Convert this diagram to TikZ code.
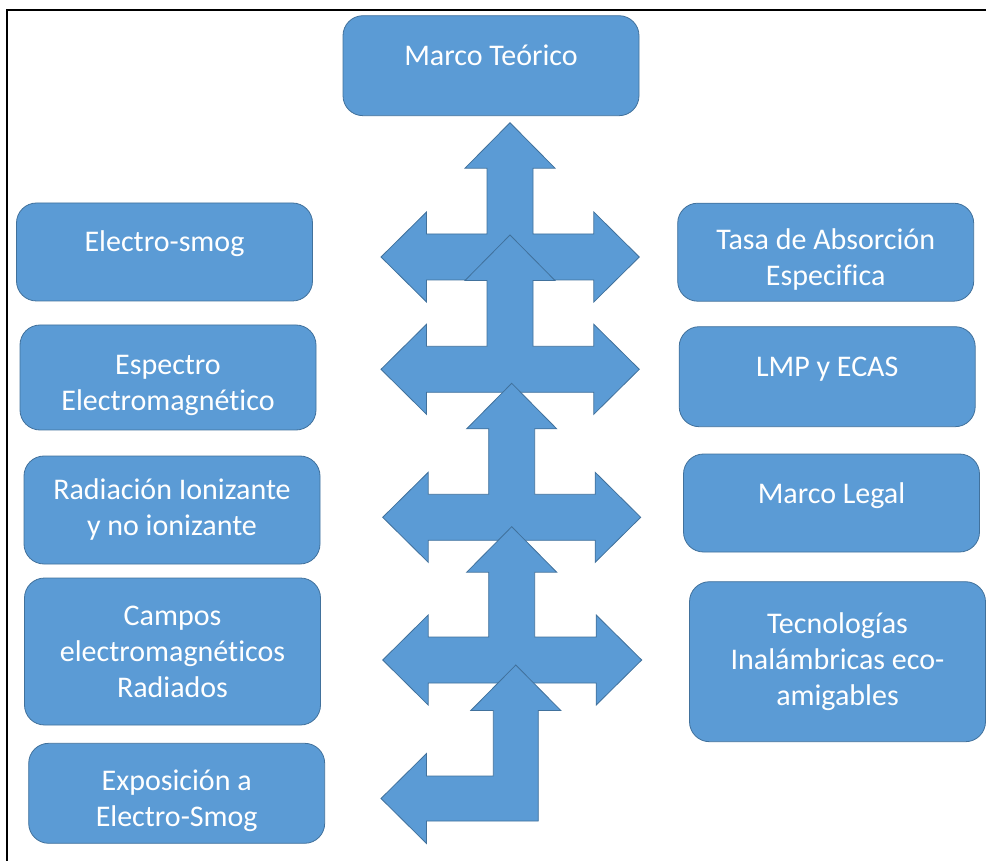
\documentclass[tikz,border=0pt]{standalone}
\usepackage{fontspec}
\setmainfont{Carlito}[Ligatures=NoCommon]
\usepackage{tikz}
\usepackage{xcolor}
\definecolor{boxblue}{RGB}{91,155,213}
\definecolor{boxline}{RGB}{65,113,156}
\usetikzlibrary{positioning, calc}
\tikzstyle{Box} = [
draw=boxline,
fill=boxblue,
rounded corners=10pt,
text=white,
align=center,
font=\fontsize{15}{18}\selectfont,
minimum width=148pt,
inner sep=2pt]
\tikzstyle{Oneline} = [text height=10pt, text depth=10pt]
\tikzstyle{Lower} = [text height=35.5pt]
\tikzstyle{BlockArrow} = [draw=boxline, fill=boxblue, line width=0.4pt]
\tikzstyle{Frame} = [line width=1pt]

% arrow with heads left, right and up: centre x, tip y, bar y, left x, right x
\newcommand{\lruarrow}[5]{%
\draw[BlockArrow] (#1,#2) -- ({#1+45},{#2+45.5}) -- ({#1+23},{#2+45.5})
    -- ({#1+23},{#3-23}) -- ({#5-45.5},{#3-23}) -- ({#5-45.5},{#3-45})
    -- (#5,#3) -- ({#5-45.5},{#3+45}) -- ({#5-45.5},{#3+23})
    -- ({#4+45.5},{#3+23}) -- ({#4+45.5},{#3+45}) -- (#4,#3)
    -- ({#4+45.5},{#3-45}) -- ({#4+45.5},{#3-23}) -- ({#1-23},{#3-23})
    -- ({#1-23},{#2+45.5}) -- ({#1-45},{#2+45.5}) -- cycle;}
% arrow with heads left and up: centre x, tip y, bar y, left x
\newcommand{\luarrow}[4]{%
\draw[BlockArrow] (#1,#2) -- ({#1+45},{#2+45.5}) -- ({#1+22.5},{#2+45.5})
    -- ({#1+22.5},{#3+22.5}) -- ({#4+45.5},{#3+22.5}) -- ({#4+45.5},{#3+45})
    -- (#4,#3) -- ({#4+45.5},{#3-45}) -- ({#4+45.5},{#3-22.5})
    -- ({#1-22.5},{#3-22.5}) -- ({#1-22.5},{#2+45.5}) -- ({#1-45},{#2+45.5})
    -- cycle;}

\begin{document}
\begin{tikzpicture}[x=0.5pt, y=-0.5pt]
    \useasboundingbox (0,0) rectangle (986,861);
    \draw[Frame] (7,861) -- (7,10) -- (986,10);

    \lruarrow{510}{122.7}{257}{381}{639.3}
    \lruarrow{510}{235}{369.3}{381}{639.3}
    \lruarrow{511.7}{383.3}{517.3}{382.7}{640.7}
    \lruarrow{511.7}{526.7}{660}{382.7}{641.7}
    \luarrow{515.8}{665}{798.5}{381}

    \node [Box, Oneline, minimum height=50pt] (1) at (491,65.7) {Marco Teórico};
    \node [Box, Oneline, minimum height=49pt] (2) at (164.5,252) {Electro-smog};
    \node [Box, Lower, minimum height=52.5pt] (3) at (168,377.5) {Espectro\\Electromagnético};
    \node [Box, minimum height=54pt] (4) at (172,510) {Radiación Ionizante\\y no ionizante};
    \node [Box, minimum height=73.5pt] (5) at (172.5,651.5) {Campos\\electromagnéticos\\Radiados};
    \node [Box, Lower, minimum height=50pt] (6) at (176.7,793.3) {Exposición a\\Electro-Smog};
    \node [Box, Lower, minimum height=49pt] (7) at (825.7,252.2) {Tasa de Absorción\\Especifica};
    \node [Box, Oneline, minimum height=50pt] (8) at (827.2,376.7) {LMP y ECAS};
    \node [Box, Oneline, minimum height=49pt] (9) at (831.5,503) {Marco Legal};
    \node [Box, minimum height=80pt] (10) at (837.5,661.7) {Tecnologías\\Inalámbricas eco-\\amigables};
\end{tikzpicture}
\end{document}
